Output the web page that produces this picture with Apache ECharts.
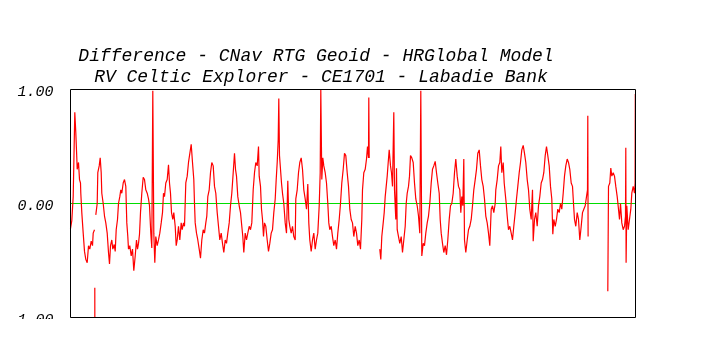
<!DOCTYPE html>
<html>
<head>
<meta charset="utf-8">
<script src="https://cdn.jsdelivr.net/npm/echarts@6/dist/echarts.min.js"></script>
<style>
html,body{margin:0;padding:0;background:#fff;}
#chart{width:706px;height:356px;}
</style>
</head>
<body>
<div id="chart"></div>
<script>
var titleLines = ['Difference - CNav RTG Geoid - HRGlobal Model', 'RV Celtic Explorer - CE1701 - Labadie Bank'];
var yTicks = [-1, 0, 1];
var xRange = [0, 565];
var zeroLine = [0, 0];

// sample position along track (arbitrary units) and difference values
var xs = [
0,1.3,2.7,3.7,4.3,5.3,6.3,6.7,8,9,10,10.3,11.3,12.7,14,15.3,16.7,18,19.3,20.7,22,22.7,24,
24.2,24.3,24.35,24.4,
25.3,26.7,27.3,28.7,29.7,30.7,31.3,32.7,34,35.3,36.7,38,39,40,41.3,42.3,43.7,44.7,45.7,47,48,49.3,50.3,51.3,52.7,54,55.3,56.3,57.3,58,59.3,60.7,62,63.3,64.7,66,67,68,69,70,71.3,72.7,74,75.3,76.7,78,79,80.3,81.3,82.3,83.3,84.3,85.3,86.7,88,89.3,90.7,92,93,94,95.3,96.7,98,99,100,101,102.3,103.3,104.7,105.7,106.7,108,109.3,110.7,111.7,113,114,115.3,116.7,118,119.3,120.7,122,123.3,124,124.7,126,127.3,128.7,130,131.3,132.7,134,135.3,136.3,137.3,138.7,140,141.3,
142.7,144,145.3,146.7,148,149.3,150.7,152,153.3,154.7,156,157.3,158.7,160,161.3,162.7,164,165,166,167.3,168.7,170,171.3,172.3,173.3,174.7,176,177.3,178.7,180,181.3,182.7,184,185.3,186.7,188,188.7,190,191,192,193,194,195.3,196.7,198,199.3,200.7,202,203.3,204.7,205.7,206.7,207.7,208.3,209,210,211,212,213.3,214.7,216,217.3,218.3,219.3,220.7,222,223.3,224.7,225.3,226.7,228,229.3,230.7,232,233.3,234.7,236,237.3,238.3,239.3,240.7,242,243.3,244.7,246,247.3,248.7,249.7,250.3,251.3,252.3,253.3,254.7,256,257.3,258.3,259.3,260.7,262,263.3,264.7,266,267.3,268.7,270,271.3,272.7,274,275.3,276.7,278,279.3,280.7,282,283.3,284.7,
286,287.3,288.7,290,291.3,292,293.3,294.7,296,297,298,298.3,298.7,
304,
309.3,310.3,311.3,312.7,313.7,314.7,315.7,316.7,317.7,318.7,320,321,322,323.3,324,325.3,326,326.7,328,329.3,330.7,332,333.3,334.7,335.7,336.7,338,339,340,341.3,342.7,344,345.3,346.7,348,349.3,350.3,351.3,352.7,354,355.3,356.7,358,359.3,360.7,362,363.3,364.7,366,367.3,368.7,369.7,370.7,372,373.3,374.7,376,377.3,378.7,380,381.3,382.7,384,385.3,386.7,388,389.3,390.3,391.3,392.3,393.3,394,395.3,396.7,398,399.3,400.7,402,403.3,404.7,406,407.3,408.7,410,411.3,412.7,414,415.3,416.7,418,419.3,420.7,422,423.3,424.7,
425.3,426.7,428,429.3,430.3,431.3,432.7,433.7,434.7,435.7,436.7,438,439.3,440.7,442,443.3,444.7,446,447.3,448.7,450,451.3,452.7,454,455.3,456.7,458,459.3,460.7,462,462.7,464,465.3,466.7,468,469.3,470.7,472,473.3,474.7,476,477.3,478.7,480,481.3,482.3,483.3,484.7,486,487.3,488.7,490,491.3,492.7,494,495.3,496.7,498,499.3,500.7,502,503,504,505.3,506.7,508,509.3,510.7,512,513.3,514.7,516,517,517.3,517.6,
527,
537.3,538,539.3,540.3,541.3,542.7,544,545.3,546.7,548,549,550,551.3,552.7,554,555,555.3,555.6,556.3,557.7,559,560.3,561.3,562.7,564,564.6,564.8
];
var diffs = [
-0.22,-0.15,0.06,0.06,0.80,0.62,0.40,0.30,0.36,0.21,0.18,0.09,-0.08,-0.26,-0.42,-0.49,-0.52,-0.37,-0.40,-0.33,-0.37,-0.26,-0.23,
'-',-0.74,-1.05,'-',
-0.10,0,0.27,0.33,0.40,0.27,0.09,0,-0.11,-0.17,-0.26,-0.43,-0.53,-0.37,-0.32,-0.40,-0.36,-0.42,-0.23,-0.14,0,0.06,0.12,0.09,0.18,0.21,0.15,-0.17,-0.29,-0.40,-0.37,-0.46,-0.40,-0.59,-0.46,-0.32,-0.40,-0.35,-0.27,-0.08,0.09,0.23,0.21,0.12,0.09,0.04,-0.02,-0.26,-0.39,0.99,-0.26,-0.52,-0.29,-0.37,-0.32,-0.26,-0.17,-0.08,0.09,0.06,0.18,0.21,0.34,0.18,0.09,-0.08,-0.14,-0.08,-0.20,-0.37,-0.32,-0.20,-0.32,-0.17,-0.23,-0.17,-0.20,0.18,0.24,0.36,0.37,0.52,0.36,0.21,0,-0.17,-0.26,-0.32,-0.40,-0.48,-0.32,-0.23,-0.26,-0.17,-0.11,0.06,0.12,0.27,0.36,
0.33,0.15,0.09,-0.08,-0.20,-0.32,-0.26,-0.35,-0.43,-0.32,-0.35,-0.26,-0.17,-0.02,0.09,0.27,0.44,0.30,0.24,0.06,-0.02,-0.08,-0.20,-0.29,-0.43,-0.26,-0.32,-0.26,-0.20,-0.23,-0.17,0.12,0.27,0.36,0.33,0.50,0.24,0.15,-0.05,-0.14,-0.29,-0.17,-0.20,-0.32,-0.42,-0.35,-0.26,-0.23,-0.08,0.04,0.21,0.36,0.56,0.92,0.42,0.30,0.18,0.09,0,-0.17,-0.26,0.20,-0.14,-0.20,-0.26,-0.20,-0.29,-0.32,0.04,0.12,0.27,0.36,0.40,0.30,0.12,0.04,-0.05,0.17,-0.17,-0.32,-0.42,-0.32,-0.26,-0.40,-0.32,-0.26,-0.02,0.27,1.0,0.21,0.40,0.33,0.27,0.18,0,-0.17,-0.23,-0.20,-0.29,-0.37,-0.32,-0.40,-0.26,-0.14,0,0.18,0.30,0.44,0.42,0.27,0.15,-0.05,-0.14,-0.17,-0.29,-0.20,
-0.26,-0.37,-0.32,-0.40,-0.14,0.12,0.27,0.30,0.39,0.50,0.40,0.93,0.40,
'-',
-0.40,-0.49,-0.29,-0.17,-0.08,0.06,0.15,0.24,0.36,0.47,0.33,0.27,0.15,0.80,0.12,-0.14,0.31,-0.23,-0.29,-0.35,-0.29,-0.43,-0.32,-0.20,0,0.09,0.15,0.24,0.42,0.40,0.36,0.18,0.04,-0.02,-0.11,-0.26,0.99,-0.46,-0.35,-0.37,-0.26,-0.17,-0.11,0,0.18,0.30,0.33,0.37,0.27,0.18,0.09,-0.14,-0.26,-0.35,-0.43,-0.37,-0.45,-0.32,-0.14,-0.02,0,0.09,0.27,0.39,0.24,0.15,0.12,-0.08,0.06,-0.02,0.39,-0.32,-0.43,-0.32,-0.23,-0.20,-0.14,-0.02,0.12,0.21,0.30,0.44,0.47,0.33,0.21,0.15,0.04,-0.11,-0.17,-0.26,-0.37,-0.05,-0.02,-0.08,0,
0.12,0.21,0.33,0.36,0.50,0.27,0.36,0.18,0.09,0,-0.11,-0.23,-0.20,-0.26,-0.32,-0.20,-0.08,0.04,0.15,0.27,0.36,0.47,0.51,0.44,0.36,0.21,0.12,-0.05,-0.14,0.12,-0.33,-0.14,-0.08,-0.20,-0.02,0.06,0.18,0.21,0.27,0.42,0.50,0.42,0.33,0.15,0.04,-0.27,-0.14,-0.20,-0.14,-0.05,-0.08,0,-0.05,0.09,0.24,0.33,0.39,0.36,0.30,0.18,0.15,0,-0.14,-0.20,-0.08,-0.14,-0.32,-0.20,-0.08,-0.05,-0.02,0.06,0.12,0.77,-0.29,
'-',
-0.77,0.15,0.18,0.31,0.24,0.27,0.24,0.15,0.06,-0.05,-0.14,0,-0.17,-0.23,-0.20,-0.11,0.49,-0.52,-0.02,-0.23,-0.14,-0.05,0.09,0.15,0.09,0.18,0.96
];

var seriesData = xs.map(function (x, i) { return [x, diffs[i]]; });
var zeroData = xRange.map(function (x, i) { return [x, zeroLine[i]]; });

var chart = echarts.init(document.getElementById('chart'), null, {renderer: 'canvas'});
var fontFam = '"Liberation Mono", "DejaVu Sans Mono", monospace';
chart.setOption({
  animation: false,
  backgroundColor: '#ffffff',
  grid: {left: 70.5, right: 70.5, top: 89.5, bottom: 38.5, show: true, borderColor: '#000', borderWidth: 1, backgroundColor: 'transparent', z: 5},
  graphic: [
    {type: 'text', x: 316, y: 56, z: 10, style: {text: titleLines[0], font: 'italic 18px ' + fontFam, fill: '#000', align: 'center', verticalAlign: 'middle'}},
    {type: 'text', x: 321, y: 77, z: 10, style: {text: titleLines[1], font: 'italic 18px ' + fontFam, fill: '#000', align: 'center', verticalAlign: 'middle'}},
    {type: 'rect', x: 0, y: 319, z: 100, shape: {width: 69, height: 40}, style: {fill: '#ffffff'}}
  ],
  xAxis: {
    type: 'value', min: xRange[0], max: xRange[1],
    axisLine: {show: false}, axisTick: {show: false}, axisLabel: {show: false}, splitLine: {show: false}
  },
  yAxis: {
    type: 'value', min: yTicks[0], max: yTicks[yTicks.length - 1], interval: 1,
    axisLine: {show: false}, axisTick: {show: false}, splitLine: {show: false},
    axisLabel: {
      margin: 17, color: '#000', fontFamily: fontFam, fontStyle: 'italic', fontSize: 15,
      formatter: function (v) { return '{a|' + v.toFixed(2) + '}'; },
      rich: {a: {fontFamily: fontFam, fontStyle: 'italic', fontSize: 15, color: '#000', padding: [6, 0, 0, 0]}}
    }
  },
  series: [
    {
      type: 'line', data: zeroData, z: 1, silent: true, showSymbol: false, symbol: 'none',
      lineStyle: {color: '#00dd00', width: 1}
    },
    {
      type: 'line', data: seriesData, z: 2, showSymbol: false, symbol: 'none', silent: true,
      connectNulls: false, clip: true,
      lineStyle: {color: '#ff0000', width: 1.2}
    }
  ]
});
</script>
</body>
</html>
